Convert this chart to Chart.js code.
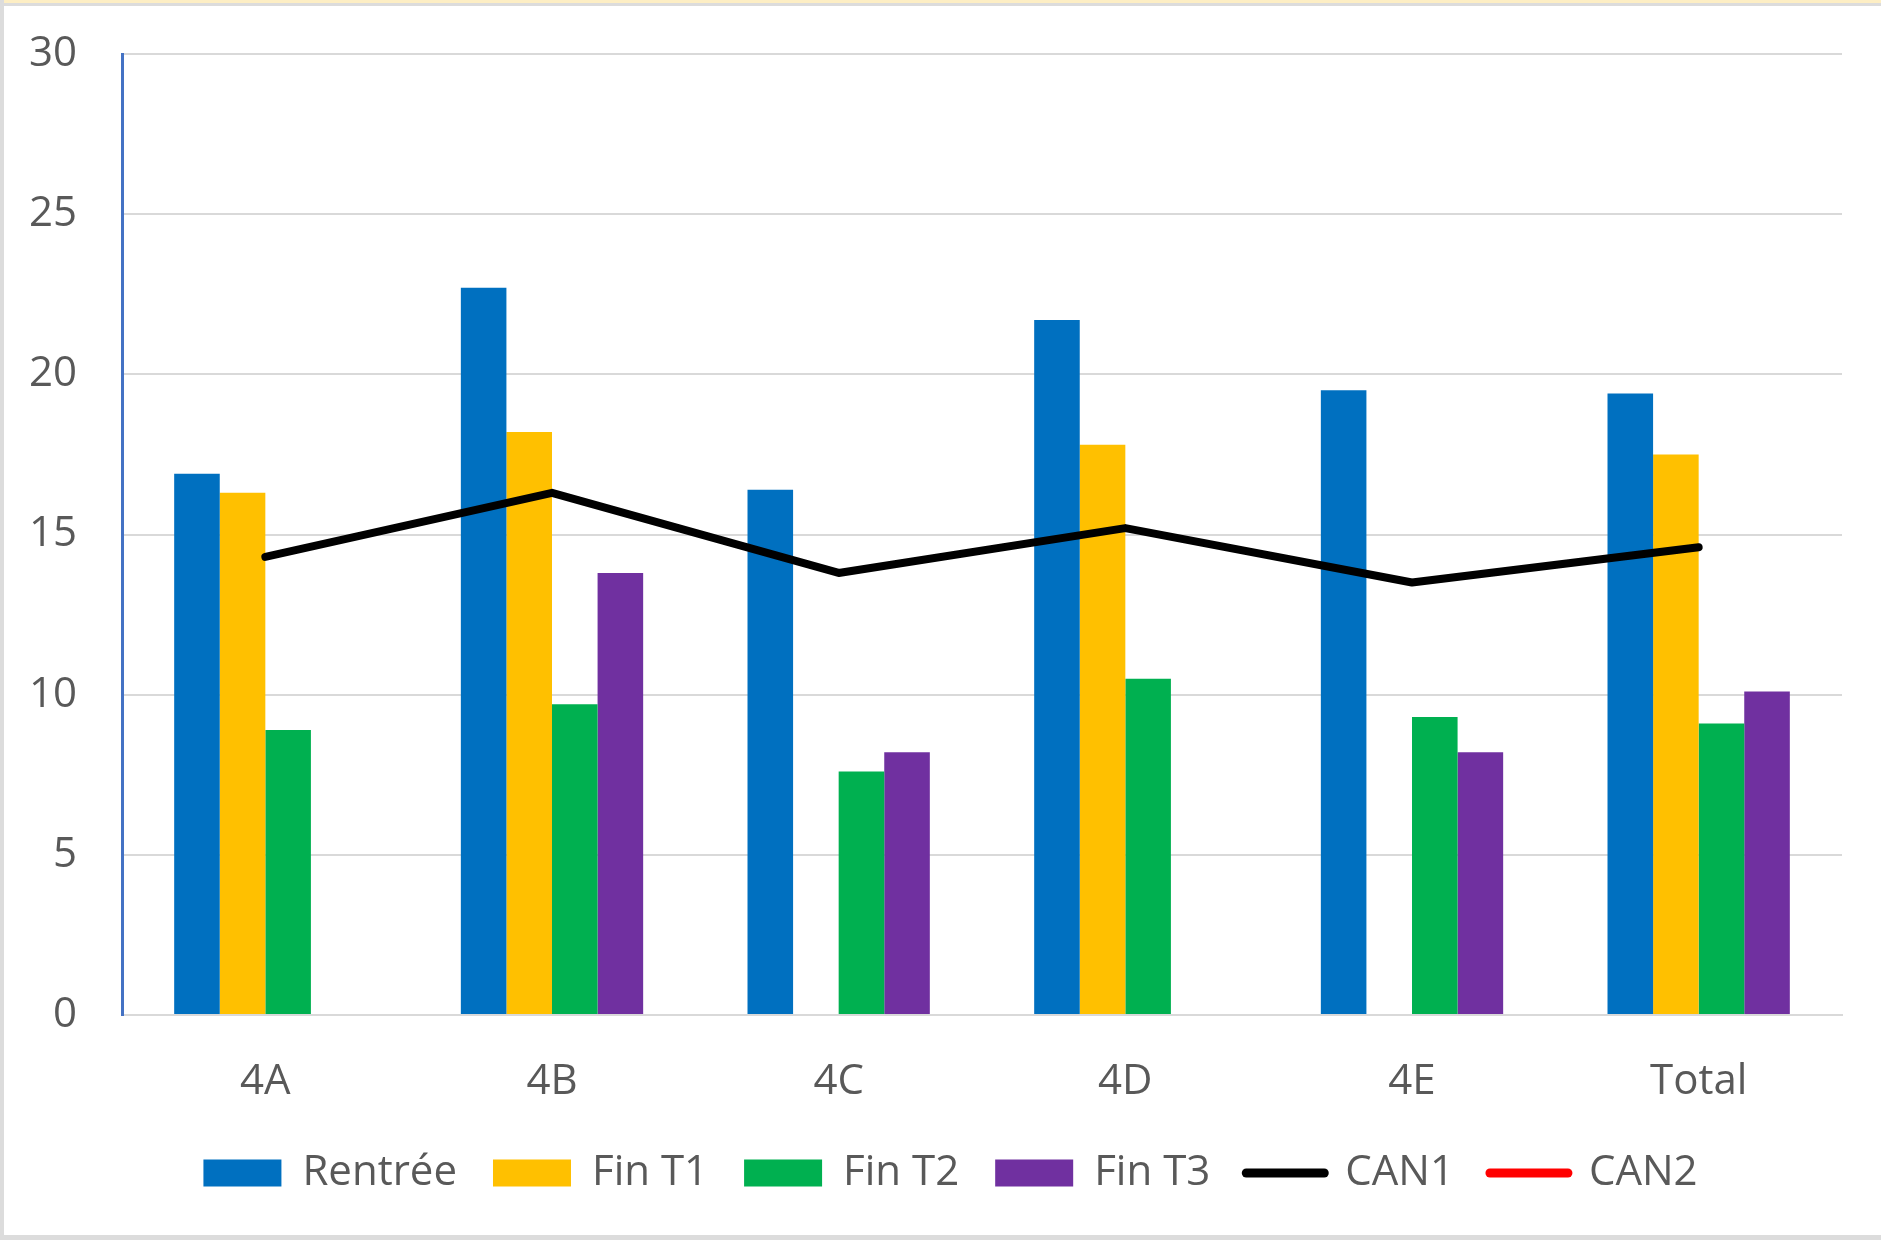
<!DOCTYPE html>
<html>
<head>
<meta charset="utf-8">
<script src="https://cdn.jsdelivr.net/npm/chart.js@4/dist/chart.umd.min.js"></script>
<style>
  body { margin: 0; background: #ffffff; }
  #wrap { position: relative; width: 1881px; height: 1240px; overflow: hidden; }
  #wrap canvas { position: absolute; left: 0; top: 0; }
  .edge { position: absolute; pointer-events: none; }
</style>
</head>
<body>
<div id="wrap">
  <canvas id="bar_chart" width="1881" height="1240"></canvas>
  <div class="edge" style="left:0;top:0;width:1881px;height:3px;background:#fdeec4;"></div>
  <div class="edge" style="left:0;top:3px;width:1881px;height:3px;background:#dcdcdc;"></div>
  <div class="edge" style="left:0;top:0;width:4px;height:1240px;background:#dcdcdc;"></div>
  <div class="edge" style="left:0;top:1235px;width:1881px;height:5px;background:#dcdcdc;"></div>
</div>
<script>
// chart data
var classes = ["4A", "4B", "4C", "4D", "4E", "Total"];
var rentree = [16.9, 22.7, 16.4, 21.7, 19.5, 19.4];
var finT1 = [16.3, 18.2, null, 17.8, null, 17.5];
var finT2 = [8.9, 9.7, 7.6, 10.5, 9.3, 9.1];
var finT3 = [null, 13.8, 8.2, null, 8.2, 10.1];
var can1 = [14.3, 16.3, 13.8, 15.2, 13.5, 14.6];
var can2 = [null, null, null, null, null, null];
var yTicks = [0, 5, 10, 15, 20, 25, 30];

var ctx = document.getElementById('bar_chart').getContext('2d');

Chart.defaults.font.family = "'Open Sans', sans-serif";
Chart.defaults.font.size = 42;
Chart.defaults.color = "#595959";

function barSet(label, data, colour) {
    return {
        type: "bar",
        label: label,
        data: data,
        backgroundColor: colour,
        borderWidth: 0,
        categoryPercentage: 0.636,
        barPercentage: 1.0,
        order: 1
    };
}

function lineSet(label, data, colour) {
    return {
        type: "line",
        label: label,
        data: data,
        borderColor: colour,
        backgroundColor: colour,
        borderWidth: 8,
        borderCapStyle: "round",
        borderJoinStyle: "round",
        pointRadius: 0,
        pointHoverRadius: 0,
        tension: 0,
        order: 0   // keep the line on top of the bars
    };
}

var barChart = new Chart(ctx, {
    data: {
        labels: classes,
        datasets: [
            barSet("Rentrée", rentree, "#0070C0"),
            barSet("Fin T1", finT1, "#FFC000"),
            barSet("Fin T2", finT2, "#00B050"),
            barSet("Fin T3", finT3, "#7030A0"),
            lineSet("CAN1", can1, "#000000"),
            lineSet("CAN2", can2, "#FF0000")
        ]
    },
    options: {
        responsive: false,
        animation: false,
        devicePixelRatio: 1,
        layout: {
            padding: { left: 20, right: 0, top: 54, bottom: 36 }
        },
        plugins: {
            tooltip: { enabled: false },
            legend: {
                position: "bottom",
                labels: {
                    usePointStyle: true,
                    pointStyleWidth: 78,
                    boxHeight: 27,
                    padding: 36,
                    color: "#595959",
                    font: { size: 42 },
                    generateLabels: function (chart) {
                        var items = Chart.defaults.plugins.legend.labels.generateLabels(chart);
                        items.forEach(function (it) {
                            var ds = chart.data.datasets[it.datasetIndex];
                            if (ds.type === "line") {
                                it.pointStyle = "line";
                                it.lineWidth = 9;
                                it.lineCap = "round";
                                it.strokeStyle = ds.borderColor;
                            } else {
                                it.pointStyle = "rect";
                                it.lineWidth = 0;
                            }
                        });
                        // legend in dataset order, not draw order
                        return items.sort(function (a, b) { return a.datasetIndex - b.datasetIndex; });
                    }
                }
            }
        },
        scales: {
            x: {
                offset: true,
                grid: { display: false, drawTicks: false },
                border: { display: true, color: "#d9d9d9", width: 2 },
                ticks: { padding: 42, color: "#595959", font: { size: 42 } },
                afterFit: function (axis) {
                    axis.height = 101;
                    axis.paddingLeft = 0;
                    axis.paddingRight = 39;   // room on the right of the plot
                }
            },
            y: {
                min: 0,
                max: 30,
                afterBuildTicks: function (axis) {
                    axis.ticks = yTicks.map(function (v) { return { value: v }; });
                },
                grid: { color: "#d9d9d9", lineWidth: 2, drawTicks: false },
                border: { display: true, color: "#4472C4", width: 3 },
                ticks: { padding: 45, color: "#595959", font: { size: 42 } },
                afterFit: function (axis) {
                    axis.width = 102;
                    axis.paddingTop = 0;
                    axis.paddingBottom = 0;
                }
            }
        }
    }
});
</script>
</body>
</html>
